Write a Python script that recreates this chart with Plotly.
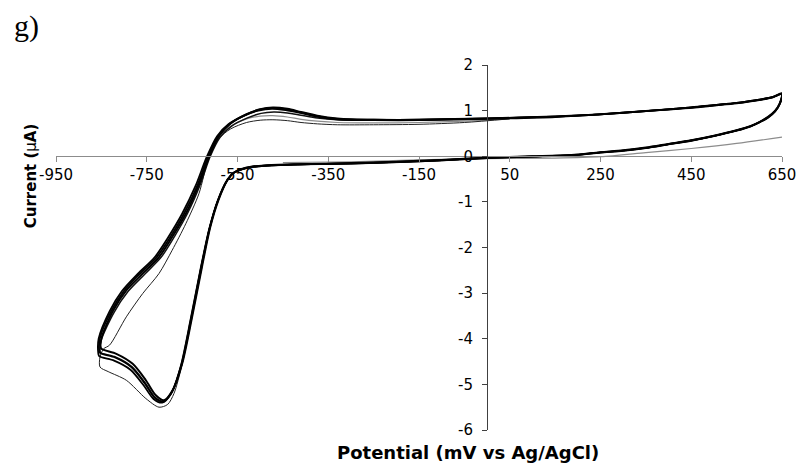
import plotly.graph_objects as go

# ---- tick labels ----
x_ticks = [-950, -750, -550, -350, -150, 50, 250, 450, 650]
y_ticks = [-6, -5, -4, -3, -2, -1, 0, 1, 2]

# shared potentials of the return (lower) branch, 650 -> -541 mV
low_x = [650, 645, 635, 620, 600, 580, 550, 500, 450, 400,
         350, 300, 250, 186, 100, 0, -100, -200, -300, -417,
         -490, -520, -541]
# shared potentials of the upper branch tail, -150 -> 650 mV
tail_x = [-150, 0, 150, 250, 350, 450, 500, 550, 600, 630, 650]

# ---- cycle A (black) ----
a_x = low_x + [-558, -572, -592, -610, -628, -650, -672, -693, -712, -730,
               -752, -781, -817, -850,
               -852, -849, -824, -795, -759, -723, -694, -664, -635, -612,
               -590, -565, -530, -500, -472, -440, -410, -374, -330, -250] + tail_x
a_y = [1.38, 1.16, 1.00, 0.87, 0.75, 0.66, 0.57, 0.45, 0.35, 0.27,
       0.19, 0.13, 0.09, 0.03, 0.00, -0.03, -0.08, -0.12, -0.15, -0.175,
       -0.20, -0.23, -0.28,
       -0.36, -0.52, -0.96, -1.55, -2.41, -3.52, -4.55, -5.13, -5.35, -5.24,
       -4.91, -4.55, -4.33, -4.22,
       -4.15, -3.96, -3.38, -2.94, -2.57, -2.21, -1.77, -1.26, -0.62, 0.00,
       0.45, 0.72, 0.92, 1.03, 1.07, 1.04, 0.97, 0.89, 0.83, 0.80,
       0.80, 0.83, 0.87, 0.92, 0.99, 1.07, 1.12, 1.17, 1.24, 1.30, 1.38]

# ---- cycle D (black) ----
d_x = low_x + [-559, -573, -593, -611, -630, -652, -674, -695, -714, -733,
               -755, -784, -820, -853,
               -855, -853, -828, -800, -765, -728, -698, -668, -638, -615,
               -592, -567, -532, -502, -473, -442, -411, -375, -331, -250] + tail_x
d_y = [1.37, 1.15, 0.99, 0.86, 0.745, 0.655, 0.565, 0.445, 0.345, 0.265,
       0.185, 0.125, 0.085, 0.025, -0.005, -0.035, -0.085, -0.125, -0.155, -0.18,
       -0.205, -0.235, -0.285,
       -0.365, -0.53, -0.97, -1.57, -2.43, -3.54, -4.58, -5.17, -5.38, -5.29,
       -4.97, -4.62, -4.41, -4.31,
       -4.24, -3.98, -3.39, -2.95, -2.57, -2.21, -1.77, -1.26, -0.63, -0.01,
       0.45, 0.71, 0.91, 1.02, 1.06, 1.03, 0.96, 0.88, 0.82, 0.80,
       0.80, 0.83, 0.87, 0.92, 0.99, 1.07, 1.12, 1.17, 1.24, 1.30, 1.37]

# ---- cycle B (black) ----
b_x = low_x + [-560, -574, -594, -612, -631, -653, -675, -696, -716, -735,
               -757, -786, -822, -855,
               -857, -856, -832, -805, -770, -733, -703, -672, -642, -618,
               -595, -570, -535, -504, -474, -444, -412, -376, -332, -250] + tail_x
b_y = [1.36, 1.14, 0.98, 0.85, 0.74, 0.65, 0.56, 0.44, 0.34, 0.26,
       0.18, 0.12, 0.08, 0.02, -0.01, -0.04, -0.09, -0.13, -0.16, -0.18,
       -0.21, -0.24, -0.29,
       -0.37, -0.54, -0.98, -1.58, -2.45, -3.56, -4.60, -5.20, -5.40, -5.32,
       -5.02, -4.68, -4.48, -4.38,
       -4.30, -4.00, -3.40, -2.96, -2.58, -2.22, -1.78, -1.26, -0.64, -0.02,
       0.44, 0.70, 0.89, 1.00, 1.04, 1.01, 0.95, 0.87, 0.81, 0.79,
       0.79, 0.82, 0.86, 0.92, 0.99, 1.06, 1.11, 1.16, 1.23, 1.29, 1.36]

# ---- cycle C (black, thinner) ----
c_x = low_x + [-559, -573, -593, -611, -629, -651, -673, -694, -714, -732,
               -754, -783, -819, -852,
               -853, -850, -822, -791, -754, -718, -689, -660, -632, -610,
               -588, -563, -528, -498, -470, -440, -410, -374, -330, -250] + tail_x
c_y = [1.37, 1.155, 0.995, 0.865, 0.745, 0.655, 0.565, 0.445, 0.345, 0.265,
       0.185, 0.125, 0.085, 0.025, -0.005, -0.035, -0.085, -0.125, -0.155, -0.18,
       -0.205, -0.235, -0.285,
       -0.365, -0.53, -0.97, -1.56, -2.43, -3.54, -4.57, -5.16, -5.37, -5.28,
       -4.96, -4.61, -4.40, -4.30,
       -4.22, -4.02, -3.42, -2.96, -2.58, -2.21, -1.76, -1.25, -0.62, 0.00,
       0.42, 0.66, 0.84, 0.94, 0.97, 0.95, 0.90, 0.84, 0.80, 0.79,
       0.80, 0.83, 0.87, 0.92, 0.99, 1.07, 1.12, 1.17, 1.24, 1.30, 1.37]

# ---- first cycle T (thin) ----
t_x = [0, -100, -200, -300, -417, -490, -520, -541,
       -560, -575, -595, -613, -631, -652, -673, -690, -704, -723,
       -752, -795, -835, -853,
       -853, -845, -832, -795, -759, -723, -694, -664, -635, -614,
       -592, -565, -530, -500, -472, -440, -410, -374, -330, -250,
       -150, -50, 50]
t_y = [-0.05, -0.10, -0.14, -0.17, -0.19, -0.22, -0.25, -0.30,
       -0.38, -0.58, -1.00, -1.60, -2.45, -3.55, -4.60, -5.20, -5.44, -5.50,
       -5.31, -4.91, -4.72, -4.62,
       -4.40, -4.22, -4.14, -3.52, -3.01, -2.57, -2.06, -1.48, -0.82, -0.05,
       0.38, 0.60, 0.74, 0.79, 0.80, 0.78, 0.74, 0.71, 0.69, 0.69,
       0.70, 0.74, 0.82]

# ---- gray cycle G (upper branch) ----
g_x = [-640, -615, -592, -565, -530, -500, -472, -440, -410, -374,
       -330, -250, -150, -50, 50]
g_y = [-0.70, -0.05, 0.42, 0.66, 0.82, 0.88, 0.89, 0.86, 0.81, 0.77,
       0.74, 0.73, 0.74, 0.77, 0.82]

# ---- gray first scan segment ----
s_x = [-450, -300, -150, 0, 150, 250, 350, 450, 550, 650]
s_y = [-0.14, -0.12, -0.08, -0.05, -0.04, -0.01, 0.08, 0.17, 0.28, 0.42]

for xs, ys in [(a_x, a_y), (b_x, b_y), (c_x, c_y), (d_x, d_y),
               (t_x, t_y), (g_x, g_y), (s_x, s_y)]:
    assert len(xs) == len(ys), (len(xs), len(ys))

fig = go.Figure()

def add(xs, ys, color, width):
    fig.add_trace(go.Scatter(x=xs, y=ys, mode="lines",
                             line=dict(color=color, width=width, shape="spline", smoothing=0.8),
                             hoverinfo="skip"))

add(s_x, s_y, "#8c8c8c", 1.2)
add(g_x, g_y, "#8c8c8c", 1.2)
add(t_x, t_y, "#222222", 1.0)
add(c_x, c_y, "#111111", 1.5)
add(b_x, b_y, "#000000", 1.8)
add(d_x, d_y, "#000000", 1.8)
add(a_x, a_y, "#000000", 2.0)

L, R, T, B = 56, 18, 65, 33
W, H = 808, 463
pw, ph = W - L - R, H - T - B

def px(xp):
    return (xp - L) / pw

def py(yp):
    return (H - B - yp) / ph

tickfont = dict(family="DejaVu Sans", size=15, color="#000000")

fig.update_layout(
    width=W, height=H,
    margin=dict(l=L, r=R, t=T, b=B),
    paper_bgcolor="white", plot_bgcolor="white",
    showlegend=False,
    xaxis=dict(range=[-950, 650], tickmode="array", tickvals=x_ticks,
               ticktext=[str(v) for v in x_ticks],
               showline=True, linecolor="#8c8c8c", linewidth=1,
               ticks="outside", ticklen=5, tickcolor="#8c8c8c",
               showgrid=False, zeroline=False,
               anchor="free", position=0.75, tickfont=tickfont),
    yaxis=dict(range=[-6, 2], tickmode="array", tickvals=y_ticks,
               ticktext=[str(v) for v in y_ticks],
               showline=True, linecolor="#404040", linewidth=1,
               ticks="outside", ticklen=5, tickcolor="#404040",
               showgrid=False, zeroline=False,
               anchor="free", position=950 / 1600, tickfont=tickfont,
               ticklabelstandoff=6),
    annotations=[
        dict(text="<b>Potential (mV vs Ag/AgCl)</b>", xref="paper", yref="paper",
             x=px(472.5), y=py(452.7), xanchor="center", yanchor="middle",
             showarrow=False, font=dict(family="DejaVu Sans", size=18, color="#000")),
        dict(text="<b>Current (</b>μ<b>A)</b>", xref="paper", yref="paper",
             x=px(31), y=py(176), xanchor="center", yanchor="middle", textangle=-90,
             showarrow=False, font=dict(family="DejaVu Sans", size=15, color="#000")),
        dict(text="g)", xref="paper", yref="paper",
             x=px(12), y=py(26), xanchor="left", yanchor="middle",
             showarrow=False, font=dict(family="Liberation Serif", size=30, color="#000")),
    ],
)

fig.write_html("out.html")
